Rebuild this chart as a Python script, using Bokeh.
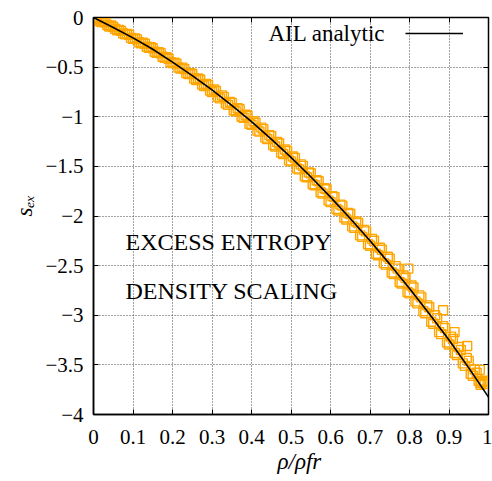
from bokeh.plotting import figure
from bokeh.models import LinearAxis, Label, Legend, LegendItem, FixedTicker, ColumnDataSource, Range1d, Title
from bokeh.embed import file_html
from bokeh.resources import INLINE

# ---- data ----
line_x = [0.0, 0.05, 0.1, 0.15, 0.2, 0.25, 0.3, 0.35, 0.4, 0.45, 0.5,
          0.55, 0.6, 0.65, 0.7, 0.75, 0.8, 0.85, 0.9, 0.95, 1.0]
line_y = [0.0, -0.100, -0.205, -0.320, -0.450, -0.585, -0.730, -0.885, -1.050, -1.225, -1.410,
          -1.605, -1.810, -2.025, -2.250, -2.485, -2.730, -2.985, -3.250, -3.530, -3.825]

sim_x = [0.00, 0.01, 0.02, 0.03, 0.04, 0.05, 0.06, 0.07, 0.08, 0.09,
         0.10, 0.11, 0.12, 0.13, 0.14, 0.15, 0.16, 0.17, 0.18, 0.19,
         0.20, 0.21, 0.22, 0.23, 0.24, 0.25, 0.26, 0.27, 0.28, 0.29,
         0.30, 0.31, 0.32, 0.33, 0.34, 0.35, 0.36, 0.37, 0.38, 0.39,
         0.40, 0.41, 0.42, 0.43, 0.44, 0.45, 0.46, 0.47, 0.48, 0.49,
         0.50, 0.51, 0.52, 0.53, 0.54, 0.55, 0.56, 0.57, 0.58, 0.59,
         0.60, 0.61, 0.62, 0.63, 0.64, 0.65, 0.66, 0.67, 0.68, 0.69,
         0.70, 0.71, 0.72, 0.73, 0.74, 0.75, 0.76, 0.77, 0.78, 0.79,
         0.80, 0.81, 0.82, 0.83, 0.84, 0.85, 0.86, 0.87, 0.88, 0.89,
         0.90, 0.91, 0.92, 0.93, 0.94, 0.95, 0.96, 0.97, 0.98,
         0.005, 0.015, 0.025, 0.035, 0.045, 0.055, 0.065, 0.075, 0.085, 0.095,
         0.105, 0.115, 0.125, 0.135, 0.145, 0.155, 0.165, 0.175, 0.185, 0.195,
         0.205, 0.215, 0.225, 0.235, 0.245, 0.255, 0.265, 0.275, 0.285, 0.295,
         0.305, 0.315, 0.325, 0.335, 0.345, 0.355, 0.365, 0.375, 0.385, 0.395,
         0.405, 0.415, 0.425, 0.435, 0.445, 0.455, 0.465, 0.475, 0.485, 0.495,
         0.505, 0.515, 0.525, 0.535, 0.545, 0.555, 0.565, 0.575, 0.585, 0.595,
         0.605, 0.615, 0.625, 0.635, 0.645, 0.655, 0.665, 0.675, 0.685, 0.695,
         0.705, 0.715, 0.725, 0.735, 0.745, 0.755, 0.765, 0.775, 0.785, 0.795,
         0.805, 0.815, 0.825, 0.835, 0.845, 0.855, 0.865, 0.875, 0.885, 0.895,
         0.905, 0.915, 0.925, 0.935, 0.945, 0.955, 0.965, 0.975, 0.985,
         0.797, 0.885, 0.914, 0.946, 0.978, 0.990, 0.990, 0.980, 0.003, 0.008]
sim_y = [0.000, -0.010, -0.045, -0.050, -0.090, -0.095, -0.130, -0.135, -0.170, -0.175,
         -0.215, -0.220, -0.260, -0.265, -0.305, -0.310, -0.355, -0.360, -0.405, -0.415,
         -0.460, -0.465, -0.515, -0.520, -0.570, -0.570, -0.630, -0.625, -0.690, -0.680,
         -0.750, -0.740, -0.815, -0.800, -0.880, -0.860, -0.945, -0.925, -1.010, -0.990,
         -1.080, -1.060, -1.150, -1.125, -1.225, -1.195, -1.300, -1.270, -1.375, -1.345,
         -1.450, -1.415, -1.530, -1.495, -1.610, -1.570, -1.690, -1.650, -1.775, -1.730,
         -1.860, -1.810, -1.945, -1.895, -2.035, -1.980, -2.120, -2.070, -2.210, -2.155,
         -2.300, -2.250, -2.395, -2.340, -2.490, -2.430, -2.585, -2.530, -2.680, -2.625,
         -2.780, -2.720, -2.880, -2.820, -2.980, -2.920, -3.085, -3.030, -3.190, -3.130,
         -3.295, -3.240, -3.400, -3.350, -3.510, -3.460, -3.610, -3.580, -3.680,
         -0.005, -0.035, -0.040, -0.075, -0.080, -0.115, -0.125, -0.160, -0.165, -0.205,
         -0.210, -0.250, -0.255, -0.295, -0.300, -0.345, -0.350, -0.395, -0.400, -0.450,
         -0.455, -0.505, -0.505, -0.560, -0.560, -0.615, -0.615, -0.675, -0.670, -0.735,
         -0.725, -0.800, -0.785, -0.865, -0.850, -0.935, -0.915, -1.000, -0.980, -1.070,
         -1.045, -1.140, -1.110, -1.210, -1.185, -1.285, -1.255, -1.360, -1.330, -1.440,
         -1.400, -1.520, -1.480, -1.600, -1.560, -1.680, -1.640, -1.760, -1.720, -1.845,
         -1.800, -1.930, -1.885, -2.015, -1.970, -2.105, -2.055, -2.195, -2.140, -2.285,
         -2.230, -2.380, -2.320, -2.475, -2.410, -2.570, -2.505, -2.665, -2.600, -2.765,
         -2.700, -2.860, -2.800, -2.960, -2.900, -3.065, -3.000, -3.170, -3.110, -3.275,
         -3.215, -3.380, -3.320, -3.485, -3.430, -3.590, -3.545, -3.660, -3.670,
         -2.530, -2.950, -3.170, -3.310, -3.550, -3.690, -3.660, -3.700, -0.000, -0.020]

x_ticks = [0.0, 0.1, 0.2, 0.3, 0.4, 0.5, 0.6, 0.7, 0.8, 0.9, 1.0]
x_tick_labels = ["0", "0.1", "0.2", "0.3", "0.4", "0.5", "0.6", "0.7", "0.8", "0.9", "1"]
y_ticks = [0.0, -0.5, -1.0, -1.5, -2.0, -2.5, -3.0, -3.5, -4.0]
y_tick_labels = ["0", "\u22120.5", "\u22121", "\u22121.5", "\u22122", "\u22122.5", "\u22123", "\u22123.5", "\u22124"]
x_title = "\u03c1/\u03c1fr"
y_title = "s\u2091\u2093"

FONT = "Liberation Serif"

p = figure(width=492, height=481, output_backend="svg", toolbar_location=None,
           x_range=Range1d(0, 1), y_range=Range1d(-4, 0),
           min_border_left=93, min_border_right=4, min_border_top=17, min_border_bottom=67)
p.background_fill_color = "white"
p.border_fill_color = "white"
p.outline_line_color = "black"
p.outline_line_width = 1.5

for ax in (p.xaxis[0], p.yaxis[0]):
    ax.major_label_text_font = FONT
    ax.major_label_text_font_size = "21px"
    ax.major_label_text_color = "black"
    ax.major_tick_in = 5
    ax.major_tick_out = 0
    ax.minor_tick_in = 0
    ax.minor_tick_out = 0
    ax.axis_line_color = "black"
    ax.axis_line_width = 1.5
    ax.major_tick_line_color = "black"

p.xaxis[0].ticker = FixedTicker(ticks=x_ticks)
p.xaxis[0].major_label_overrides = dict(zip(x_ticks, x_tick_labels))
p.xaxis[0].major_label_standoff = 15
p.yaxis[0].ticker = FixedTicker(ticks=y_ticks)
p.yaxis[0].major_label_overrides = dict(zip(y_ticks, y_tick_labels))
p.yaxis[0].major_label_standoff = 10

# mirrored ticks (top/right)
top_ax = LinearAxis(ticker=FixedTicker(ticks=x_ticks), major_label_text_font_size="0px",
                    major_tick_in=5, major_tick_out=0, minor_tick_in=0, minor_tick_out=0,
                    major_label_standoff=0, axis_line_color="black")
right_ax = LinearAxis(ticker=FixedTicker(ticks=y_ticks), major_label_text_font_size="0px",
                      major_tick_in=5, major_tick_out=0, minor_tick_in=0, minor_tick_out=0,
                      major_label_standoff=0, axis_line_color="black")
p.add_layout(top_ax, "above")
p.add_layout(right_ax, "right")

p.xgrid.ticker = FixedTicker(ticks=x_ticks)
p.ygrid.ticker = FixedTicker(ticks=y_ticks)
for g in (p.xgrid[0], p.ygrid[0]):
    g.grid_line_color = "#444444"
    g.grid_line_dash = "1 2"
    g.grid_line_width = 1

src_sim = ColumnDataSource(dict(x=sim_x, y=sim_y))
p.scatter("x", "y", source=src_sim, marker="square", size=9, fill_color=None,
          line_color="#FFA500", line_width=1.4)

src_line = ColumnDataSource(dict(x=line_x, y=line_y))
ln = p.line("x", "y", source=src_line, line_color="black", line_width=1.6)

legend = Legend(items=[LegendItem(label=" ", renderers=[ln])], location=(312, 376),
                glyph_width=58, glyph_height=10, label_text_font_size="6px",
                padding=0, margin=0, spacing=0, label_standoff=0,
                border_line_color=None, background_fill_alpha=0)
p.add_layout(legend, "center")

p.add_layout(Label(x=0.443, y=-0.29, text="AIL analytic", text_font=FONT,
                   text_font_size="23px", text_color="black"))
p.add_layout(Label(x=0.081, y=-2.39, text="EXCESS ENTROPY", text_font=FONT,
                   text_font_size="24px", text_color="black"))
p.add_layout(Label(x=0.081, y=-2.89, text="DENSITY SCALING", text_font=FONT,
                   text_font_size="24px", text_color="black"))

# axis titles as side-panel titles
p.add_layout(Title(text=x_title, text_font=FONT, text_font_style="italic",
                   text_font_size="23px", text_color="black", align="left",
                   offset=184, standoff=0), "below")
p.add_layout(Title(text=y_title, text_font=FONT, text_font_style="italic",
                   text_font_size="23px", text_color="black", align="left",
                   offset=198, standoff=12), "left")

open("out.html", "w").write(file_html(p, INLINE))
